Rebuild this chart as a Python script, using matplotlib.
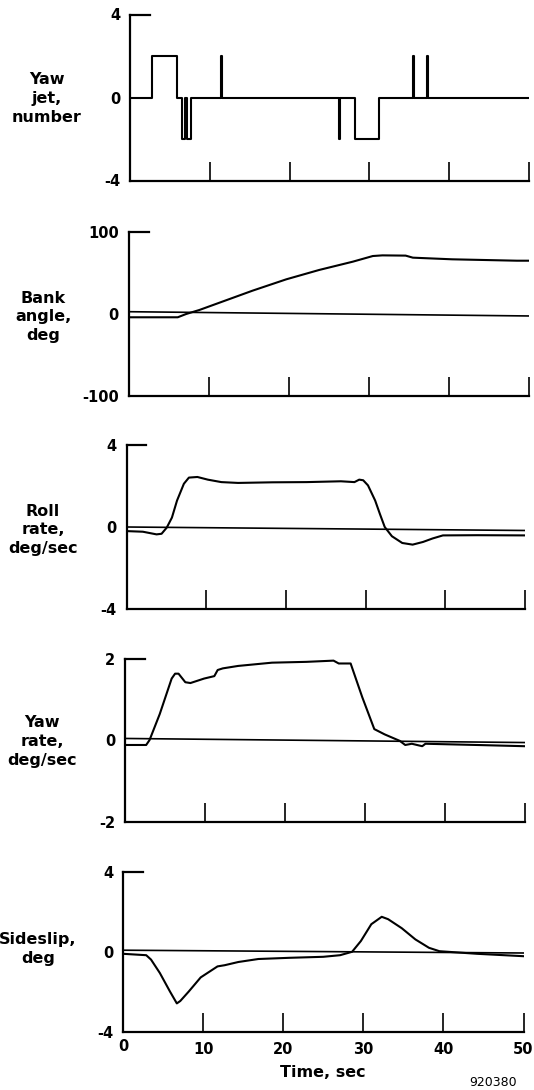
import matplotlib
matplotlib.use("Agg")
import matplotlib.pyplot as plt
from matplotlib.transforms import blended_transform_factory

plt.rcParams['font.family'] = ['DejaVu Sans']
plt.rcParams['font.weight'] = 'bold'

# ---------------- data ----------------
time_ticks = [0, 10, 20, 30, 40, 50]

# Yaw jet (number of jets), step signal
jet_t = [0, 2.7, 5.85, 6.5, 6.95, 7.2, 7.6, 11.35, 11.5, 26.15, 26.3,
         28.15, 31.15, 35.45, 35.6, 37.25, 37.4, 50]
jet_v = [0, 2, 0, -2, 0, -2, 0, 2, 0, -2, 0, -2, 0, 2, 0, 2, 0, 0]

# Bank angle, deg
bank_t = [0, 6.15, 7.2, 8.85, 15.5, 19.7, 23.8, 28.0, 30.5, 31.7, 34.6,
          35.5, 40.4, 48.5, 50]
bank_v = [-4, -4, 0, 4.9, 28.5, 42.3, 53.7, 63.8, 70.7, 71.5, 71.2,
          68.7, 66.7, 65, 65]
bank_ref_t = [0, 50]
bank_ref_v = [2.8, -2.4]

# Roll rate, deg/sec
roll_t = [0, 2.05, 3.77, 4.4, 5.05, 5.7, 6.34, 7.2, 7.83, 8.9, 10.2, 11.9,
          14.0, 18.3, 22.6, 26.9, 28.6, 29.2, 29.7, 30.3, 31.2, 31.8, 32.4,
          33.3, 34.6, 35.9, 37.2, 38.4, 39.7, 44.0, 50]
roll_v = [-0.2, -0.23, -0.36, -0.33, -0.03, 0.46, 1.29, 2.11, 2.41, 2.44,
          2.31, 2.19, 2.15, 2.18, 2.19, 2.23, 2.19, 2.31, 2.28, 2.03, 1.29,
          0.63, 0.0, -0.45, -0.78, -0.86, -0.73, -0.56, -0.41, -0.4, -0.41]
roll_ref_t = [0, 50]
roll_ref_v = [0.0, -0.17]

# Yaw rate, deg/sec
yawr_t = [0, 2.65, 3.07, 4.35, 5.84, 6.27, 6.7, 7.55, 8.19, 9.9, 11.18,
          11.6, 12.24, 14.16, 18.4, 22.7, 26.1, 26.75, 28.24, 29.7, 31.2,
          32.5, 34.4, 35.07, 35.9, 37.2, 37.6, 44.0, 50]
yawr_v = [-0.11, -0.11, 0.01, 0.65, 1.52, 1.64, 1.64, 1.43, 1.41, 1.52,
          1.58, 1.73, 1.77, 1.83, 1.91, 1.93, 1.96, 1.89, 1.89, 1.06, 0.28,
          0.15, -0.01, -0.11, -0.08, -0.14, -0.08, -0.11, -0.14]
yawr_ref_t = [0, 50]
yawr_ref_v = [0.05, -0.05]

# Sideslip, deg
slip_t = [0, 2.9, 3.5, 4.6, 5.87, 6.72, 7.15, 8.2, 9.7, 11.8, 12.7, 14.4,
          16.9, 20.8, 25.0, 27.1, 28.6, 29.7, 31.0, 32.3, 33.1, 34.8, 36.5,
          38.2, 39.5, 44.2, 50]
slip_v = [-0.09, -0.16, -0.38, -1.05, -1.98, -2.57, -2.45, -1.98, -1.27,
          -0.72, -0.66, -0.5, -0.35, -0.29, -0.24, -0.16, 0.01, 0.55, 1.39,
          1.76, 1.64, 1.19, 0.63, 0.21, 0.04, -0.09, -0.21]
slip_ref_t = [0, 50]
slip_ref_v = [0.09, -0.05]

panels = [
    dict(label="Yaw\njet,\nnumber", ylim=(-4, 4), yticklabels=["-4", "0", "4"],
         t=jet_t, v=jet_v, ref=None, step=True),
    dict(label="Bank\nangle,\ndeg", ylim=(-100, 100), yticklabels=["-100", "0", "100"],
         t=bank_t, v=bank_v, ref=(bank_ref_t, bank_ref_v), step=False),
    dict(label="Roll\nrate,\ndeg/sec", ylim=(-4, 4), yticklabels=["-4", "0", "4"],
         t=roll_t, v=roll_v, ref=(roll_ref_t, roll_ref_v), step=False),
    dict(label="Yaw\nrate,\ndeg/sec", ylim=(-2, 2), yticklabels=["-2", "0", "2"],
         t=yawr_t, v=yawr_v, ref=(yawr_ref_t, yawr_ref_v), step=False),
    dict(label="Sideslip,\ndeg", ylim=(-4, 4), yticklabels=["-4", "0", "4"],
         t=slip_t, v=slip_v, ref=(slip_ref_t, slip_ref_v), step=False),
]

# ---------------- layout (pixels) ----------------
W, H = 534, 1090
boxes = [  # left, right, top, bottom
    (130, 529, 14.5, 180.5),
    (128.5, 529, 232, 396),
    (126.5, 525, 445, 609),
    (125, 524.5, 659, 822),
    (123, 523.5, 872, 1032),
]
label_cx = [47, 43, 43, 42, 38]
label_dy = [-1, -3, -3, -1, 3]   # pixel shift of label block (positive = up)

fig = plt.figure(figsize=(W / 100, H / 100), dpi=100)

for i, (p, (l, r, t, b)) in enumerate(zip(panels, boxes)):
    ax = fig.add_axes([l / W, 1 - b / H, (r - l) / W, (b - t) / H])
    lo, hi = p["ylim"]
    ax.set_xlim(0, 50)
    ax.set_ylim(lo, hi)
    for s in ("top", "right"):
        ax.spines[s].set_visible(False)
    for s in ("left", "bottom"):
        ax.spines[s].set_linewidth(1.6)
    last = i == len(panels) - 1
    ax.set_xticks(time_ticks[1:])
    ax.tick_params(axis="x", direction="in", length=14, width=1.2,
                   labelbottom=last, labelsize=10.5, pad=7)
    if last:
        ax.set_xticklabels([str(v) for v in time_ticks[1:]], fontweight="bold")
        ax.set_xlabel("Time, sec", fontsize=11.5, fontweight="bold", labelpad=6)
        ax.text(time_ticks[0], -0.044, str(time_ticks[0]),
                transform=blended_transform_factory(ax.transData, ax.transAxes),
                ha="center", va="top", fontsize=10.5, fontweight="bold")
    ax.set_yticks([lo, 0, hi])
    ax.set_yticklabels(p["yticklabels"], fontweight="bold")
    ax.tick_params(axis="y", length=0, pad=7, labelsize=10.5)
    ax.axhline(hi, 0, 0.05, color="k", lw=1.6, clip_on=False)

    if p["ref"] is not None:
        ax.plot(p["ref"][0], p["ref"][1], color="k", lw=1.2)
    if p["step"]:
        ax.plot(p["t"], p["v"], color="k", lw=1.5, drawstyle="steps-post")
    else:
        ax.plot(p["t"], p["v"], color="k", lw=1.5)

    zero_px = b - (0 - lo) / (hi - lo) * (b - t) - label_dy[i]
    fig.text(label_cx[i] / W, 1 - zero_px / H, p["label"], ha="center", va="center",
             multialignment="center", fontsize=11.5, fontweight="bold",
             linespacing=1.3)

fig.text(493 / W, 1 - 1082 / H, "920380", ha="center", va="center",
         fontsize=9, fontweight="normal")

fig.savefig("out.png", dpi=100)
